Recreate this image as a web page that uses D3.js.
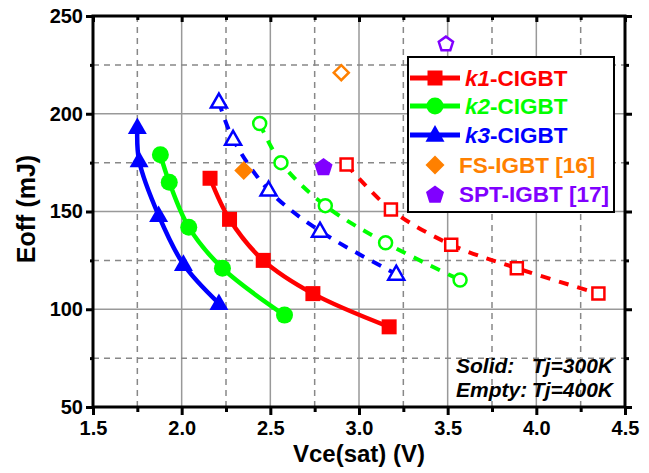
<!DOCTYPE html>
<html>
<head>
<meta charset="utf-8">
<script src="https://cdn.jsdelivr.net/npm/d3@7"></script>
<style>
  body { margin: 0; background: #fff; }
  text { font-family: Arial, "Liberation Sans", sans-serif; font-weight: bold; }
</style>
</head>
<body>
<svg id="chart" width="649" height="473"></svg>
<script>
// ---- data ----
var xTicks = [1.5, 2.0, 2.5, 3.0, 3.5, 4.0, 4.5];
var yTicks = [50, 100, 150, 200, 250];

// solid markers, Tj=300K
var k1Vce300 = [2.16, 2.27, 2.46, 2.74, 3.17];
var k1Eoff300 = [167, 146, 125, 108, 91];
var k2Vce300 = [1.88, 1.93, 2.04, 2.23, 2.58];
var k2Eoff300 = [179, 165, 142, 121, 97];
var k3Vce300 = [1.75, 1.76, 1.87, 2.01, 2.21];
var k3Eoff300 = [193, 176, 148, 123, 103];

// empty markers, Tj=400K
var k1Vce400 = [2.93, 3.18, 3.52, 3.89, 4.35];
var k1Eoff400 = [174, 151, 133, 121, 108];
var k2Vce400 = [2.44, 2.56, 2.81, 3.15, 3.57];
var k2Eoff400 = [195, 175, 153, 134, 115];
var k3Vce400 = [2.21, 2.29, 2.49, 2.78, 3.21];
var k3Eoff400 = [206, 187, 161, 140, 118];

// reference devices [solid 300K, empty 400K]
var fsVce = [2.35, 2.90];
var fsEoff = [171, 221];
var sptVce = [2.80, 3.49];
var sptEoff = [173, 236];

var legendLabels = [
  {k: "k1", rest: "-CIGBT"},
  {k: "k2", rest: "-CIGBT"},
  {k: "k3", rest: "-CIGBT"},
  {k: "", rest: "FS-IGBT [16]"},
  {k: "", rest: "SPT-IGBT [17]"}
];

var RED = "#ff0000", GREEN = "#00ff00", BLUE = "#0000ff", ORANGE = "#ff8000", PURPLE = "#8000ff";

var svg = d3.select("#chart");
var pLeft = 93, pRight = 625, pTop = 16, pBottom = 407;

var x = d3.scaleLinear().domain([1.5, 4.5]).range([pLeft, pRight]);
var y = d3.scaleLinear().domain([50, 250]).range([pBottom, pTop]);

var minorX = d3.range(1.75, 4.5, 0.5);
var minorY = d3.range(75, 250, 50);

// grid
var grid = svg.append("g");
grid.selectAll("vmaj").data(xTicks.slice(1, -1)).enter().append("line")
  .attr("x1", x).attr("x2", x).attr("y1", pTop).attr("y2", pBottom)
  .attr("stroke", "#999").attr("stroke-width", 1.5);
grid.selectAll("vmin").data(minorX).enter().append("line")
  .attr("x1", x).attr("x2", x).attr("y1", pTop).attr("y2", pBottom)
  .attr("stroke", "#888").attr("stroke-width", 1.5).attr("stroke-dasharray", "6,5");
grid.selectAll("hmaj").data(yTicks.slice(1, -1)).enter().append("line")
  .attr("y1", y).attr("y2", y).attr("x1", pLeft).attr("x2", pRight)
  .attr("stroke", "#999").attr("stroke-width", 1.5);
grid.selectAll("hmin").data(minorY).enter().append("line")
  .attr("y1", y).attr("y2", y).attr("x1", pLeft).attr("x2", pRight)
  .attr("stroke", "#888").attr("stroke-width", 1.5).attr("stroke-dasharray", "6,5");

// axes
var axB = svg.append("g").attr("transform", "translate(0," + pBottom + ")")
  .call(d3.axisBottom(x).tickValues(xTicks).tickFormat(d3.format(".1f")).tickSize(8).tickPadding(6));
var axL = svg.append("g").attr("transform", "translate(" + pLeft + ",0)")
  .call(d3.axisLeft(y).tickValues(yTicks).tickSize(7).tickPadding(3));
svg.append("g").attr("transform", "translate(0," + pTop + ")")
  .call(d3.axisBottom(x).tickValues(xTicks).tickSize(6).tickFormat(""));
svg.append("g").attr("transform", "translate(" + pRight + ",0)")
  .call(d3.axisLeft(y).tickValues(yTicks).tickSize(-7).tickFormat(""));
// minor ticks
svg.append("g").attr("transform", "translate(0," + pBottom + ")")
  .call(d3.axisBottom(x).tickValues(minorX).tickSize(5).tickFormat(""));
svg.append("g").attr("transform", "translate(" + pLeft + ",0)")
  .call(d3.axisLeft(y).tickValues(minorY).tickSize(3).tickFormat(""));
svg.append("g").attr("transform", "translate(0," + pTop + ")")
  .call(d3.axisBottom(x).tickValues(minorX).tickSize(4).tickFormat(""));
svg.append("g").attr("transform", "translate(" + pRight + ",0)")
  .call(d3.axisLeft(y).tickValues(minorY).tickSize(-4).tickFormat(""));

svg.selectAll(".domain").remove();
svg.selectAll(".tick line").attr("stroke", "#000").attr("stroke-width", 3);
axB.selectAll("text").attr("font-size", 20).attr("fill", "#000");
axL.selectAll("text").attr("font-size", 20).attr("fill", "#000");

// curves
var line = d3.line().x(function(d) { return x(d[0]); }).y(function(d) { return y(d[1]); })
  .curve(d3.curveCatmullRom.alpha(0.5));

function zip(a, b) { return a.map(function(v, i) { return [v, b[i]]; }); }

var series = [
  {c: RED, s: "square", p300: zip(k1Vce300, k1Eoff300), p400: zip(k1Vce400, k1Eoff400)},
  {c: GREEN, s: "circle", p300: zip(k2Vce300, k2Eoff300), p400: zip(k2Vce400, k2Eoff400)},
  {c: BLUE, s: "triangle", p300: zip(k3Vce300, k3Eoff300), p400: zip(k3Vce400, k3Eoff400)}
];

function shape(kind, size) {
  var h = size / 2, p = [];
  if (kind === "square") return "M" + (-h) + "," + (-h) + "H" + h + "V" + h + "H" + (-h) + "Z";
  if (kind === "circle") return "M" + h + ",0A" + h + "," + h + " 0 1,1 " + (-h) + ",0A" + h + "," + h + " 0 1,1 " + h + ",0Z";
  if (kind === "triangle") return "M0," + (-h * 1.05) + "L" + h + "," + (h * 0.7) + "L" + (-h) + "," + (h * 0.7) + "Z";
  if (kind === "diamond") return "M0," + (-h) + "L" + h + ",0L0," + h + "L" + (-h) + ",0Z";
  if (kind === "pentagon") {
    for (var i = 0; i < 5; i++) {
      var a = -Math.PI / 2 + i * 2 * Math.PI / 5;
      p.push([h * Math.cos(a), h * Math.sin(a) + h * 0.1]);
    }
    return "M" + p.join("L") + "Z";
  }
}

var solidSize = {square: 15, circle: 17, triangle: 19, diamond: 19, pentagon: 19};
var emptySize = {square: 12, circle: 13, triangle: 16, diamond: 15, pentagon: 15};

var plot = svg.append("g");
series.forEach(function(sr) {
  plot.append("path").datum(sr.p400).attr("d", line)
    .attr("fill", "none").attr("stroke", sr.c).attr("stroke-width", 4).attr("stroke-dasharray", "10,9");
  plot.append("path").datum(sr.p300).attr("d", line)
    .attr("fill", "none").attr("stroke", sr.c).attr("stroke-width", 4.5);
});
series.forEach(function(sr) {
  plot.selectAll(null).data(sr.p400).enter().append("path")
    .attr("transform", function(d) { return "translate(" + x(d[0]) + "," + y(d[1]) + ")"; })
    .attr("d", shape(sr.s, emptySize[sr.s]))
    .attr("fill", "#fff").attr("stroke", sr.c).attr("stroke-width", 2.5);
  plot.selectAll(null).data(sr.p300).enter().append("path")
    .attr("transform", function(d) { return "translate(" + x(d[0]) + "," + y(d[1]) + ")"; })
    .attr("d", shape(sr.s, solidSize[sr.s]))
    .attr("fill", sr.c);
});

var refs = [
  {c: ORANGE, s: "diamond", vce: fsVce, eoff: fsEoff},
  {c: PURPLE, s: "pentagon", vce: sptVce, eoff: sptEoff}
];
refs.forEach(function(r) {
  plot.append("path")
    .attr("transform", "translate(" + x(r.vce[0]) + "," + y(r.eoff[0]) + ")")
    .attr("d", shape(r.s, solidSize[r.s])).attr("fill", r.c);
  plot.append("path")
    .attr("transform", "translate(" + x(r.vce[1]) + "," + y(r.eoff[1]) + ")")
    .attr("d", shape(r.s, emptySize[r.s]))
    .attr("fill", "#fff").attr("stroke", r.c).attr("stroke-width", 2.5);
});

// frame
svg.append("rect").attr("x", pLeft).attr("y", pTop).attr("width", pRight - pLeft).attr("height", pBottom - pTop)
  .attr("fill", "none").attr("stroke", "#000").attr("stroke-width", 3);

// legend
var lg = svg.append("g");
lg.append("rect").attr("x", 408).attr("y", 57).attr("width", 206).attr("height", 155)
  .attr("fill", "#fff").attr("stroke", "#000").attr("stroke-width", 2);
var rowY = [78, 106, 135, 165, 194];
var legendItems = series.concat(refs);
legendItems.forEach(function(it, i) {
  var g = lg.append("g").attr("transform", "translate(0," + rowY[i] + ")");
  if (i < 3) {
    g.append("line").attr("x1", 410).attr("x2", 460).attr("y1", 0).attr("y2", 0)
      .attr("stroke", it.c).attr("stroke-width", 5);
  }
  g.append("path").attr("transform", "translate(435,0)")
    .attr("d", shape(it.s, solidSize[it.s])).attr("fill", it.c);
  var t = g.append("text").attr("x", i < 3 ? 465 : 459).attr("y", 8)
    .attr("font-size", 22.5).attr("fill", it.c);
  if (legendLabels[i].k) t.append("tspan").attr("font-style", "italic").text(legendLabels[i].k);
  t.append("tspan").text(legendLabels[i].rest);
});

// annotation
var ann = svg.append("g").attr("font-size", 21).attr("font-style", "italic").attr("fill", "#000");
ann.append("text").attr("x", 456).attr("y", 373).text("Solid:");
ann.append("text").attr("x", 613).attr("y", 373).attr("text-anchor", "end").text("Tj=300K");
ann.append("text").attr("x", 456).attr("y", 397).text("Empty:");
ann.append("text").attr("x", 613).attr("y", 397).attr("text-anchor", "end").text("Tj=400K");

// axis titles
svg.append("text").attr("x", (pLeft + pRight) / 2).attr("y", 462)
  .attr("text-anchor", "middle").attr("font-size", 24).text("Vce(sat) (V)");
svg.append("text").attr("transform", "translate(35,209) rotate(-90)")
  .attr("text-anchor", "middle").attr("font-size", 25).text("Eoff (mJ)");
</script>
</body>
</html>
